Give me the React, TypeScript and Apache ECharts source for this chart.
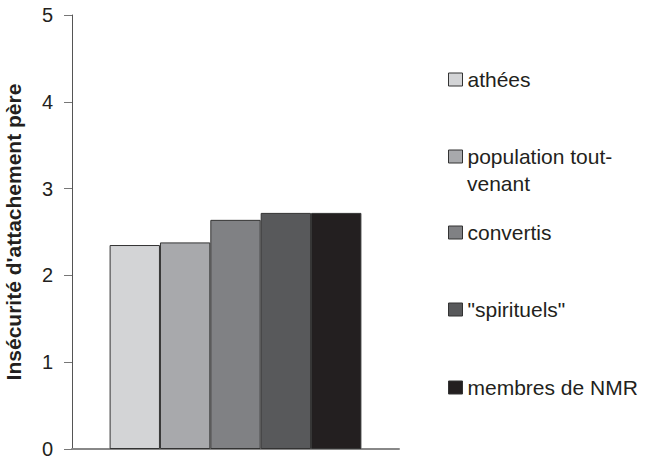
import React, { useEffect, useRef } from "react";
import * as echarts from "echarts";

const categories = [""];
const seriesNames = ["athées", "population tout-venant", "convertis", "\"spirituels\"", "membres de NMR"];
const seriesValues = [2.35, 2.38, 2.64, 2.72, 2.72];
const seriesColors = ["#d3d4d6", "#a8a9ac", "#808184", "#58595b", "#231f20"];
const yTicks = [0, 1, 2, 3, 4, 5];
const legendCenters = [79, 156, 232, 309, 387];

export default function App() {
  const ref = useRef<HTMLDivElement>(null);
  useEffect(() => {
    if (!ref.current) return;
    const chart = echarts.init(ref.current, undefined, { renderer: "svg" });
    const font = "Liberation Sans, Arial, Helvetica, sans-serif";
    chart.setOption({
      animation: false,
      textStyle: { fontFamily: font },
      grid: { left: 72, right: 252, top: 15, bottom: 8, containLabel: false, outerBoundsMode: "none" },
      xAxis: {
        type: "category",
        data: categories,
        axisLine: { lineStyle: { color: "#888", width: 2 } },
        axisTick: { show: false },
        axisLabel: { show: false },
      },
      yAxis: {
        type: "value",
        min: yTicks[0],
        max: yTicks[yTicks.length - 1],
        interval: 1,
        name: "Insécurité d'attachement père",
        nameLocation: "middle",
        nameGap: 48,
        nameTextStyle: { fontSize: 21, fontWeight: "bold", color: "#231f20", fontFamily: font },
        axisLine: { show: true, lineStyle: { color: "#555", width: 1 } },
        axisTick: { show: true, length: 8, lineStyle: { color: "#777" } },
        axisLabel: { fontSize: 20, color: "#231f20", margin: 19, fontFamily: font },
        splitLine: { show: false },
      },
      legend: seriesNames.map((n, i) => ({
        data: [n],
        orient: "vertical",
        left: 448,
        top: legendCenters[i] - 10,
        padding: 0,
        itemWidth: 14,
        itemHeight: 13,
        icon: "rect",
        itemStyle: { borderColor: "#333", borderWidth: 1 },
        textStyle: { fontSize: 21, color: "#231f20", fontFamily: font },
        formatter: (name: string) => (name === "population tout-venant" ? "population tout-" : name),
        selectedMode: false,
      })),
      graphic: [
        {
          type: "text",
          left: 467,
          top: 173,
          style: { text: "venant", fontSize: 21, fill: "#231f20", fontFamily: font },
        },
      ],
      series: seriesNames.map((n, i) => ({
        type: "bar",
        name: n,
        data: [seriesValues[i]],
        barGap: "0%",
        barCategoryGap: "23%",
        itemStyle: { color: seriesColors[i], borderColor: "#333", borderWidth: 1 },
      })),
    });
    return () => chart.dispose();
  }, []);
  return <div ref={ref} style={{ position: "absolute", left: 0, top: 0, width: 651, height: 457 }} />;
}
